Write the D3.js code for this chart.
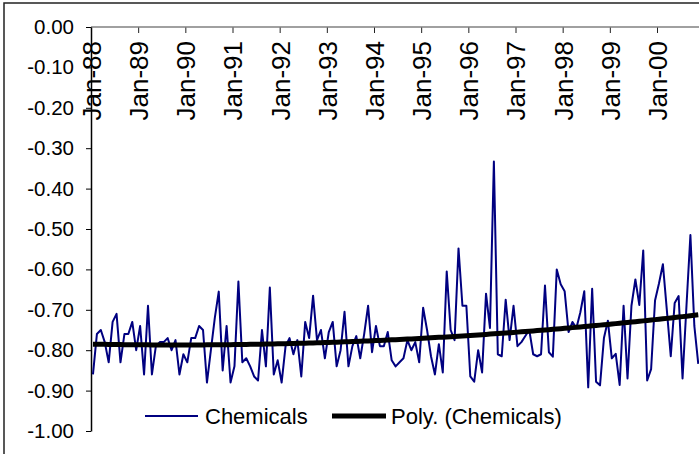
<!DOCTYPE html>
<html><head><meta charset="utf-8">
<script src="https://cdn.jsdelivr.net/npm/d3@7"></script>
<style>html,body{margin:0;padding:0;background:#fff;overflow:hidden}</style>
</head><body><svg id="c" width="699" height="454"></svg>
<script>
// Monthly values, Jan-88 onwards
const chemicals = [
 -0.86,-0.76,-0.75,-0.78,-0.83,-0.73,-0.71,-0.83,-0.76,-0.76,-0.73,-0.80,
 -0.74,-0.86,-0.69,-0.86,-0.79,-0.78,-0.78,-0.77,-0.80,-0.775,-0.86,-0.81,
 -0.83,-0.77,-0.77,-0.74,-0.75,-0.88,-0.80,-0.72,-0.655,-0.85,-0.74,-0.88,
 -0.84,-0.63,-0.83,-0.82,-0.84,-0.865,-0.875,-0.75,-0.84,-0.645,-0.86,-0.825,
 -0.88,-0.79,-0.77,-0.81,-0.775,-0.865,-0.73,-0.77,-0.665,-0.775,-0.75,-0.82,
 -0.755,-0.73,-0.84,-0.80,-0.705,-0.84,-0.79,-0.765,-0.82,-0.76,-0.69,-0.805,
 -0.74,-0.79,-0.79,-0.755,-0.825,-0.84,-0.83,-0.82,-0.775,-0.80,-0.78,-0.83,
 -0.695,-0.75,-0.815,-0.86,-0.785,-0.855,-0.605,-0.75,-0.775,-0.548,-0.69,-0.69,
 -0.865,-0.878,-0.80,-0.855,-0.66,-0.745,-0.333,-0.81,-0.815,-0.675,-0.775,-0.69,
 -0.79,-0.78,-0.765,-0.75,-0.81,-0.815,-0.81,-0.64,-0.805,-0.816,-0.60,-0.637,
 -0.654,-0.755,-0.73,-0.745,-0.706,-0.654,-0.892,-0.648,-0.878,-0.887,-0.77,-0.727,
 -0.82,-0.809,-0.886,-0.69,-0.87,-0.69,-0.625,-0.688,-0.553,-0.875,-0.847,-0.677,
 -0.635,-0.587,-0.70,-0.815,-0.683,-0.666,-0.87,-0.69,-0.515,-0.74,-0.834
];
const xTickLabels = ["Jan-88","Jan-89","Jan-90","Jan-91","Jan-92","Jan-93","Jan-94",
                     "Jan-95","Jan-96","Jan-97","Jan-98","Jan-99","Jan-00"];
const yTicks = [0,-0.1,-0.2,-0.3,-0.4,-0.5,-0.6,-0.7,-0.8,-0.9,-1.0];
const seriesNames = ["Chemicals","Poly. (Chemicals)"];
const polyOrder = 2;

const FONT = "'Liberation Sans', Arial, sans-serif";
const svg = d3.select("#c");

// chart area frame
svg.append("rect").attr("x",4).attr("y",3).attr("width",720).attr("height",470)
  .attr("fill","#fff").attr("stroke","#222").attr("stroke-width",1.5);

const x = d3.scaleLinear().domain([0,144]).range([91,657]);
const y = d3.scaleLinear().domain([-1,0]).range([431,27]);
const px = k => x(k + 0.5);

// polynomial least squares trend
function polyfit(vals, order){
  const n = vals.length, N = order+1, s = n-1;
  const A = Array.from({length:N},()=>new Array(N+1).fill(0));
  vals.forEach((v,i)=>{
    const t = i/s;
    for(let r=0;r<N;r++){
      for(let c=0;c<N;c++) A[r][c] += Math.pow(t,r+c);
      A[r][N] += v*Math.pow(t,r);
    }
  });
  for(let i=0;i<N;i++){
    let p=i; for(let r=i+1;r<N;r++) if(Math.abs(A[r][i])>Math.abs(A[p][i])) p=r;
    [A[i],A[p]]=[A[p],A[i]];
    for(let r=0;r<N;r++){ if(r===i) continue; const f=A[r][i]/A[i][i];
      for(let c=i;c<=N;c++) A[r][c]-=f*A[i][c]; }
  }
  const coef = A.map((row,i)=>row[N]/row[i]);
  return vals.map((_,i)=>{const t=i/s; return coef.reduce((a,c,j)=>a+c*Math.pow(t,j),0);});
}
const trend = polyfit(chemicals, polyOrder);

// x axis (at value 0, top)
const xAxis = d3.axisBottom(x).tickValues(d3.range(0,145,12))
  .tickFormat((d,i)=>xTickLabels[i]).tickSize(6).tickSizeOuter(0);
const gx = svg.append("g").attr("transform",`translate(0,${y(0)})`).call(xAxis);
gx.select(".domain").remove();
gx.append("line").attr("x1",91).attr("x2",699).attr("y1",0).attr("y2",0)
  .attr("stroke","#808080").attr("stroke-width",1.5);
gx.selectAll(".tick line").attr("stroke","#222").attr("stroke-width",1);
gx.selectAll(".tick text")
  .attr("transform","rotate(-90)")
  .attr("text-anchor","end")
  .attr("x",-14).attr("y",0).attr("dy","0.36em")
  .attr("fill","#000")
  .style("font-family",FONT).style("font-size","26px");

// y axis
const yAxis = d3.axisLeft(y).tickValues(yTicks).tickFormat(d=>d.toFixed(2))
  .tickSize(5).tickSizeOuter(0).tickPadding(12);
const gy = svg.append("g").attr("transform",`translate(91,0)`).call(yAxis);
gy.select(".domain").attr("stroke","#000").attr("stroke-width",1.5);
gy.selectAll(".tick line").attr("stroke","#000");
gy.selectAll(".tick text").attr("fill","#000")
  .style("font-family",FONT).style("font-size","20.5px");

// series
const line = d3.line().x((d,i)=>px(i)).y(d=>y(d));
svg.append("path").datum(chemicals).attr("d",line)
  .attr("fill","none").attr("stroke","#000080").attr("stroke-width",2)
  .attr("stroke-linejoin","round");
svg.append("path").datum(trend).attr("d",line)
  .attr("fill","none").attr("stroke","#000").attr("stroke-width",5)
  .attr("stroke-linejoin","round");

// legend
const lg = svg.append("g");
const legendItems = [
  {name:seriesNames[0], color:"#000080", w:2, x0:145, x1:198, tx:205},
  {name:seriesNames[1], color:"#000", w:5, x0:332, x1:386, tx:391}
];
legendItems.forEach(it=>{
  lg.append("line").attr("x1",it.x0).attr("x2",it.x1).attr("y1",416).attr("y2",416)
    .attr("stroke",it.color).attr("stroke-width",it.w);
  lg.append("text").attr("x",it.tx).attr("y",416).attr("dy","0.36em")
    .style("font-family",FONT).style("font-size","22px").attr("fill","#000").text(it.name);
});
</script>
</body></html>
